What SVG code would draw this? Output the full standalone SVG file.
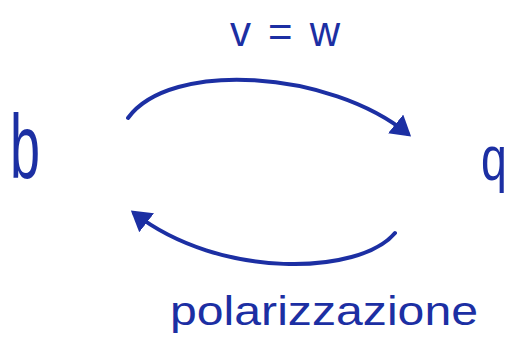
<svg xmlns="http://www.w3.org/2000/svg" width="513" height="338" viewBox="0 0 513 338">
<defs>
<style>
.t{font-family:"Liberation Sans",Arial,sans-serif;fill:#1c2fa3;}
.c{fill:none;stroke:#1c2fa3;stroke-width:4;stroke-linecap:round;}
</style>
<marker id="ah" markerWidth="6" markerHeight="6" refX="4" refY="3" orient="auto" markerUnits="strokeWidth">
<path d="M0,0 L5,3 L0,6 Z" fill="#1c2fa3"/>
</marker>
</defs>
<rect width="513" height="338" fill="#ffffff"/>
<g id="node-b"><text class="t" x="0" y="0" font-size="90" transform="translate(10,178) scale(0.6,1)">b</text></g>
<g id="node-q"><text class="t" x="0" y="0" font-size="62" transform="translate(481,180) scale(0.75,1)">q</text></g>
<g id="label-top"><text class="t" x="230" y="46" font-size="42" textLength="110" lengthAdjust="spacing">v=w</text></g>
<g id="label-bottom"><text class="t" x="170" y="325" font-size="40" textLength="308" lengthAdjust="spacingAndGlyphs">polarizzazione</text></g>
<g id="connectors">
<path class="c" d="M128,118 C170,60 330,70 408,134" marker-end="url(#ah)"/>
<path class="c" d="M395,233 C360,275 220,280 134,213" marker-end="url(#ah)"/>
</g>
</svg>
